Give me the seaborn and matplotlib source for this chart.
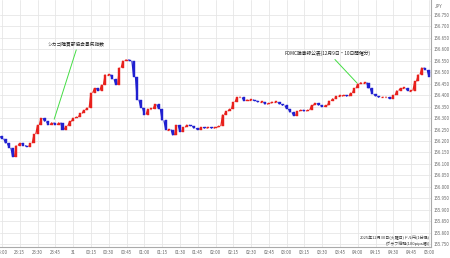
import numpy as np
import matplotlib
matplotlib.use("Agg")
import matplotlib.pyplot as plt
import seaborn as sns

# 3-minute closes from 23:00 to 05:00 (USD/JPY)
closes = [
    156.21, 156.19, 156.17, 156.13, 156.18, 156.19, 156.18, 156.175, 156.19, 156.23,
    156.27, 156.30, 156.285, 156.27, 156.28, 156.27, 156.28, 156.25, 156.265, 156.285,
    156.30, 156.305, 156.32, 156.335, 156.345, 156.41, 156.43, 156.42, 156.445, 156.49,
    156.49, 156.47, 156.445, 156.52, 156.55, 156.555, 156.55, 156.48, 156.38, 156.345,
    156.315, 156.34, 156.34, 156.36, 156.34, 156.29, 156.25, 156.25, 156.225, 156.27,
    156.24, 156.26, 156.27, 156.265, 156.255, 156.25, 156.26, 156.255, 156.26, 156.255,
    156.26, 156.265, 156.315, 156.33, 156.34, 156.37, 156.39, 156.39, 156.375, 156.38,
    156.38, 156.375, 156.37, 156.37, 156.36, 156.365, 156.37, 156.37, 156.36, 156.355,
    156.34, 156.325, 156.31, 156.33, 156.335, 156.33, 156.335, 156.355, 156.365, 156.355,
    156.35, 156.355, 156.375, 156.385, 156.395, 156.395, 156.40, 156.395, 156.41, 156.43,
    156.45, 156.455, 156.455, 156.43, 156.405, 156.395, 156.39, 156.39, 156.39, 156.385,
    156.40, 156.42, 156.43, 156.43, 156.42, 156.42, 156.46, 156.49, 156.52, 156.51,
    156.48,
]
opens = [156.22] + closes[:-1]
tick_labels = ["23:00", "23:15", "23:30", "23:45", "31", "00:15", "00:30", "00:45",
               "01:00", "01:15", "01:30", "01:45", "02:00", "02:15", "02:30", "02:45",
               "03:00", "03:15", "03:30", "03:45", "04:00", "04:15", "04:30", "04:45", "05:00"]
y_ticks = [155.75 + 0.05 * k for k in range(21)]
ann1 = "シカゴ購買部協会景気指数"
ann2 = "FOMC議事録公表(12月9日・10日開催分)"
caption1 = "2025年12月30日(火曜日)ドル円(1分足)"
caption2 = "[グラフ縦軸(100pips幅)]"

sns.set_theme(style="whitegrid")
plt.rcParams['font.family'] = ['Noto Sans CJK JP', 'DejaVu Sans']

fig = plt.figure(figsize=(4.5, 2.58), dpi=100)
ax = fig.add_axes([0, 11 / 258, 431 / 450, 247 / 258])
ax.set_facecolor("white")

RED, BLUE = "#e8201c", "#2020d0"
minutes = np.arange(len(closes)) * 3
o = np.array(opens)
c = np.array(closes)
up = c >= o
cols = np.where(up, RED, BLUE)
# connecting path between consecutive candles
for i in range(len(c)):
    ax.plot([minutes[i] - 1.5, minutes[i]], [o[i], c[i]], color=cols[i], lw=0.9,
            solid_capstyle="butt", zorder=2)
h = c - o
h = np.where(np.abs(h) < 0.004, np.where(up, 0.004, -0.004), h)
ax.bar(minutes, h, bottom=o, width=1.7, color=cols, edgecolor=cols, linewidth=0.3, zorder=3)

ax.set_xlim(-1.7, 361.7)
ax.set_ylim(155.737, 156.8155)
ax.set_xticks(np.arange(0, 361, 15))
ax.set_xticklabels(tick_labels)
ax.set_yticks(y_ticks)
ax.set_yticklabels([f"{v:.3f}" for v in y_ticks])
ax.yaxis.tick_right()
ax.tick_params(axis="both", length=0, labelsize=3.2, colors="#666666", pad=2)
ax.grid(True, color="#e6e6e6", linewidth=0.6)
for s in ["left", "top"]:
    ax.spines[s].set_visible(False)
for s in ["right", "bottom"]:
    ax.spines[s].set_visible(True)
    ax.spines[s].set_color("#aaaaaa")
    ax.spines[s].set_linewidth(0.8)

fig.text(435 / 450, 1 - 6 / 258, "JPY", fontsize=3.2, color="#666666", va="center", ha="left")

# annotations
ax.annotate(ann1, xy=(44, 156.295), xytext=(38, 156.612), fontsize=3.4, color="#222222",
            ha="left", va="bottom",
            arrowprops=dict(arrowstyle="-", color="#44dd44", lw=0.7, shrinkA=0, shrinkB=0,
                            relpos=(0.53, 0.0)))
ax.annotate(ann2, xy=(299.3, 156.453), xytext=(274.5, 156.57), fontsize=3.4, color="#222222",
            ha="center", va="bottom",
            arrowprops=dict(arrowstyle="-", color="#44dd44", lw=0.7, shrinkA=0, shrinkB=0,
                            relpos=(0.55, 0.0)))

ax.text(0.998, 0.026, caption1, transform=ax.transAxes, fontsize=2.9, color="#333333",
        ha="right", va="bottom")
ax.text(0.998, 0.006, caption2, transform=ax.transAxes, fontsize=2.9, color="#333333",
        ha="right", va="bottom")

fig.savefig("out.png", dpi=100)
